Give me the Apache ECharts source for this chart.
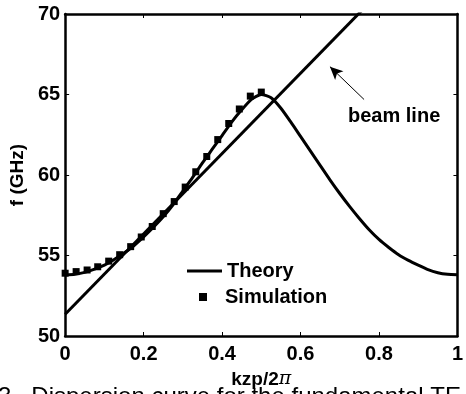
<!DOCTYPE html>
<html>
<head>
<meta charset="utf-8">
<script src="https://cdn.jsdelivr.net/npm/echarts@6/dist/echarts.min.js"></script>
<style>
  html, body { margin: 0; padding: 0; background: #fff; }
  #box { width: 466px; height: 394px; }
</style>
</head>
<body>
<div id="box"></div>
<script>
// theory dispersion curve
var theoryK = [0, 0.025, 0.05, 0.075, 0.1, 0.125, 0.15, 0.175, 0.2, 0.225, 0.25, 0.275, 0.3, 0.325, 0.35, 0.375, 0.4, 0.425, 0.45, 0.475, 0.5,
               0.525, 0.55, 0.575, 0.6, 0.625, 0.65, 0.675, 0.7, 0.725, 0.75, 0.775, 0.8, 0.825, 0.85, 0.875, 0.9, 0.925, 0.95, 0.975, 1];
var theoryF = [53.8, 53.84, 53.95, 54.15, 54.4, 54.75, 55.15, 55.6, 56.15, 56.75, 57.4, 58.15, 59.0, 59.85, 60.75, 61.6, 62.45, 63.3, 64.05, 64.7, 65.0,
               64.8, 64.15, 63.3, 62.4, 61.5, 60.6, 59.7, 58.85, 58.05, 57.3, 56.6, 56.0, 55.5, 55.05, 54.7, 54.4, 54.12, 53.93, 53.83, 53.8];
// simulation points
var simK = [0, 0.028, 0.056, 0.083, 0.111, 0.139, 0.167, 0.194, 0.222, 0.25, 0.278, 0.306, 0.333, 0.361, 0.389, 0.417, 0.444, 0.472, 0.5];
var simF = [53.9, 54.0, 54.1, 54.3, 54.65, 55.05, 55.55, 56.15, 56.8, 57.6, 58.35, 59.25, 60.2, 61.15, 62.2, 63.2, 64.1, 64.9, 65.15];
// beam line
var beamK = [0, 1];
var beamF = [51.35, 76.3];
var xTicks = ["0", "0.2", "0.4", "0.6", "0.8", "1"];

function pairs(xs, ys) {
  return xs.map(function (x, i) { return [x, ys[i]]; });
}

var font = "'Liberation Sans', Arial, sans-serif";
var chart = echarts.init(document.getElementById("box"));

var axisLine = { show: true, onZero: false, lineStyle: { color: "#000", width: 2.5 } };
var axisTick = { show: true, inside: true, length: 4, lineStyle: { color: "#000", width: 1 } };

var option = {
  backgroundColor: "#fff",
  animation: false,
  grid: { left: 62, right: 3, top: 14, bottom: 56 },
  legend: [
    {
      data: [{ name: "Theory", icon: "rect" }],
      left: 182, top: 256,
      itemWidth: 35, itemHeight: 3,
      textStyle: { fontFamily: font, fontWeight: "bold", fontSize: 20, color: "#000" }
    },
    {
      data: [{ name: "Simulation", icon: "rect" }],
      left: 194, top: 282,
      itemWidth: 8, itemHeight: 8,
      textStyle: { fontFamily: font, fontWeight: "bold", fontSize: 20, color: "#000", padding: [0, 0, 0, 13] }
    }
  ],
  xAxis: [
    {
      type: "value", min: 0, max: 1, interval: 0.2, position: "bottom",
      axisLine: axisLine, axisTick: axisTick, splitLine: { show: false },
      axisLabel: {
        margin: 8, color: "#000", fontFamily: font, fontWeight: "bold", fontSize: 20,
        formatter: function (v) { return xTicks[Math.round(v / 0.2)]; }
      },
      name: "kzp/2{pi|π}", nameLocation: "middle", nameGap: 34,
      nameTextStyle: {
        color: "#000", fontFamily: font, fontWeight: "bold", fontSize: 19,
        rich: { pi: { fontFamily: "'DejaVu Serif', serif", fontStyle: "italic", fontWeight: "normal", fontSize: 19, color: "#000" } }
      }
    },
    {
      type: "value", min: 0, max: 1, interval: 0.2, position: "top",
      axisLine: axisLine, axisTick: axisTick, splitLine: { show: false },
      axisLabel: { show: false }
    }
  ],
  yAxis: [
    {
      type: "value", min: 50, max: 70, interval: 5, position: "left",
      axisLine: axisLine, axisTick: axisTick, splitLine: { show: false },
      axisLabel: { margin: 5, color: "#000", fontFamily: font, fontWeight: "bold", fontSize: 20, padding: [4, 0, 0, 0] },
      name: "f (GHz)", nameLocation: "middle", nameGap: 33, nameRotate: 90,
      nameTextStyle: { color: "#000", fontFamily: font, fontWeight: "bold", fontSize: 19 }
    },
    {
      type: "value", min: 50, max: 70, interval: 5, position: "right",
      axisLine: axisLine, axisTick: axisTick, splitLine: { show: false },
      axisLabel: { show: false }
    }
  ],
  series: [
    {
      name: "Theory", type: "line", data: pairs(theoryK, theoryF),
      smooth: 0.2, showSymbol: false, symbol: "none", clip: true,
      lineStyle: { color: "#000", width: 3 }, itemStyle: { color: "#000" }, z: 3
    },
    {
      name: "beam", type: "line", data: pairs(beamK, beamF),
      showSymbol: false, symbol: "none", clip: true,
      lineStyle: { color: "#000", width: 3 }, z: 3,
      markLine: {
        silent: true, symbol: ["none", "arrow"], symbolSize: [9, 13],
        label: { show: false },
        lineStyle: { color: "#000", width: 1, type: "solid" },
        data: [[{ coord: [0.762, 64.69] }, { coord: [0.675, 66.73] }]]
      }
    },
    {
      name: "Simulation", type: "scatter", data: pairs(simK, simF),
      symbol: "rect", symbolSize: 7, itemStyle: { color: "#000", opacity: 1 }, z: 4
    }
  ],
  graphic: [
    {
      type: "text", left: 348, top: 106,
      style: { text: "beam line", font: "bold 20px " + font, fill: "#000" }
    },
    {
      type: "text", left: -2, top: 385,
      style: { text: "3.  Dispersion curve for the fundamental TE", font: "24px " + font, fill: "#000" }
    }
  ]
};

chart.setOption(option);
</script>
</body>
</html>
